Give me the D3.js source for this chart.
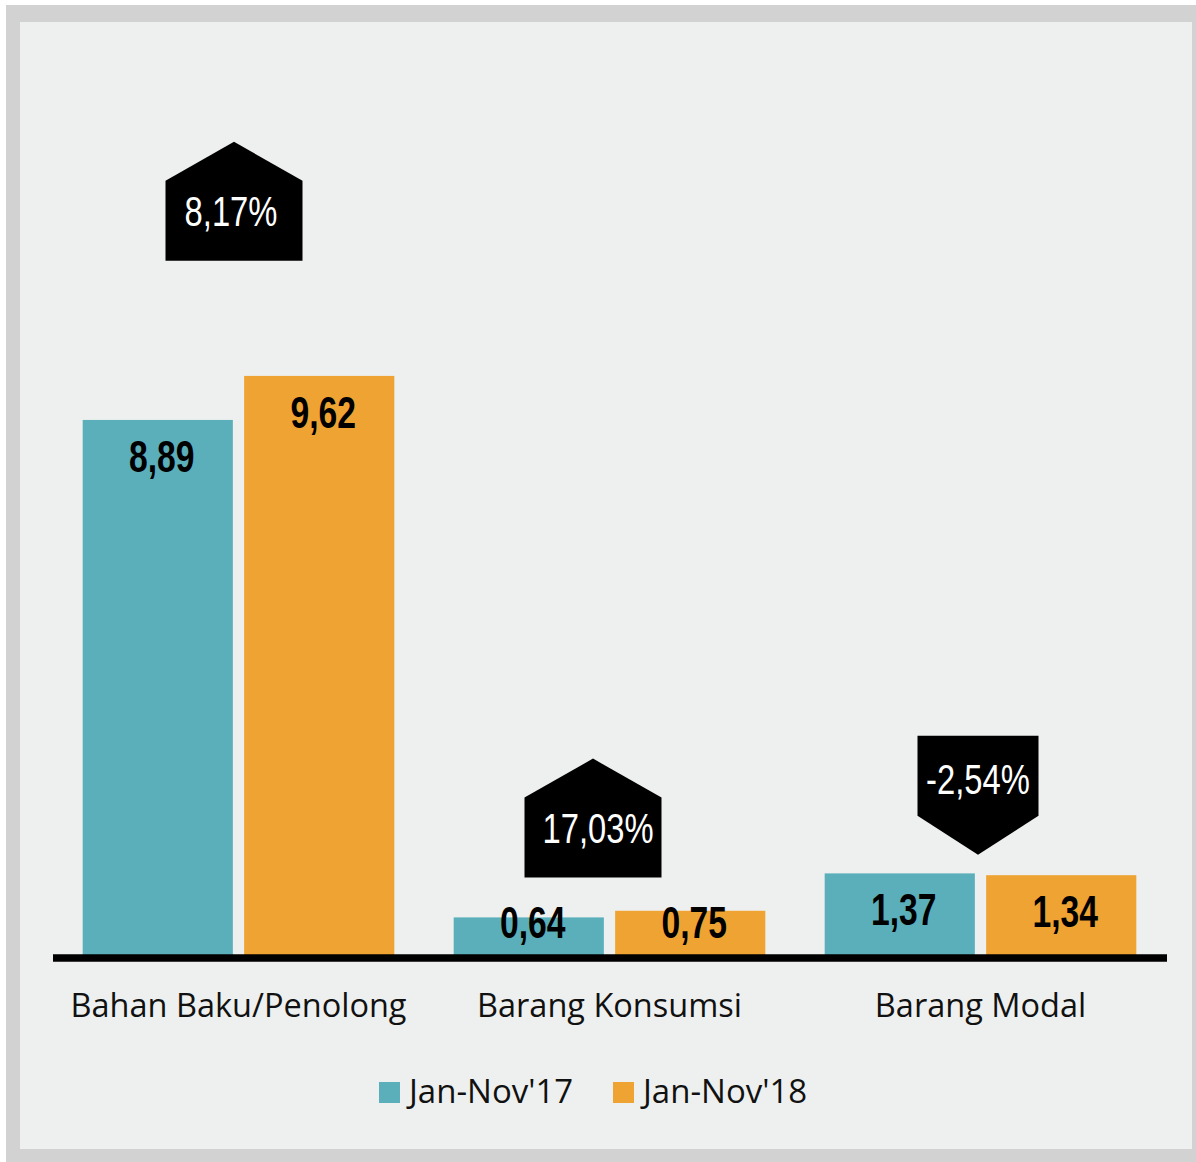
<!DOCTYPE html>
<html>
<head>
<meta charset="utf-8">
<script src="https://cdn.jsdelivr.net/npm/d3@7"></script>
<style>
  html, body { margin: 0; padding: 0; background: #ffffff; }
  svg { display: block; }
  .cat-label { font-family: 'Open Sans', sans-serif; font-size: 32.5px; fill: #111; }
  .legend-label { font-family: 'Open Sans', sans-serif; font-size: 33px; fill: #111; }
  .value-label { font-family: 'Liberation Sans', Arial, sans-serif; font-weight: bold; font-size: 44px; fill: #000; }
  .badge-label { font-family: 'Liberation Sans', Arial, sans-serif; font-size: 42px; fill: #fff; }
</style>
</head>
<body>
<svg id="chart" width="1196" height="1162"></svg>
<script>
const categories = ['Bahan Baku/Penolong', 'Barang Konsumsi', 'Barang Modal'];
const seriesNames = ["Jan-Nov'17", "Jan-Nov'18"];
const values17 = [8.89, 0.64, 1.37];
const values18 = [9.62, 0.75, 1.34];
const growth = [8.17, 17.03, -2.54];

const COLORS = ['#5aafbb', '#efa332'];
const WIDTH = 1196;
const HEIGHT = 1162;
// squeeze Liberation Sans into a narrow face
const NARROW_VALUE = 0.765;
const NARROW_BADGE = 0.78;

// badge placement (anchor level in data units, horizontal nudge, box width, text nudge)
const badgeLayout = [
  { level: 11.53, dx: -4.5, w: 137, tdx: -3 },
  { level: 1.3, dx: -16.5, w: 137, tdx: 5 },
  { level: 1.68, dx: -2.5, w: 121, tdx: 0 },
];

const fmt = (v) => v.toFixed(2).replace('.', ',');

const svg = d3.select('#chart');

// frame
svg.append('rect')
  .attr('x', 6).attr('y', 5)
  .attr('width', WIDTH - 6).attr('height', HEIGHT - 5)
  .attr('fill', '#d2d2d2');
svg.append('rect')
  .attr('x', 20).attr('y', 22)
  .attr('width', 1172).attr('height', 1127)
  .attr('fill', '#eef0ef');

const x0 = d3.scaleBand()
  .domain(categories)
  .range([53, 1166])
  .paddingInner(0.16)
  .paddingOuter(0.08);

const x1 = d3.scaleBand()
  .domain(seriesNames)
  .range([0, x0.bandwidth()])
  .paddingInner(0.07);

const y = d3.scaleLinear()
  .domain([0, 10])
  .range([956, 353]);

const rows = categories.map((c, i) => ({
  category: c,
  values: [values17[i], values18[i]].map((v, j) => ({ series: seriesNames[j], value: v, idx: j })),
  growth: growth[i],
  layout: badgeLayout[i],
}));

const groups = svg.append('g')
  .attr('id', 'bars')
  .selectAll('g')
  .data(rows)
  .enter()
    .append('g')
    .attr('transform', (d) => `translate(${x0(d.category)},0)`);

groups.selectAll('rect')
  .data((d) => d.values)
  .enter()
    .append('rect')
    .attr('x', (d) => x1(d.series))
    .attr('y', (d) => y(d.value))
    .attr('width', x1.bandwidth())
    .attr('height', (d) => y(0) - y(d.value))
    .attr('fill', (d) => COLORS[d.idx]);

groups.selectAll('text')
  .data((d) => d.values)
  .enter()
    .append('text')
    .classed('value-label', true)
    .attr('text-anchor', 'middle')
    .attr('transform', (d) => `translate(${x1(d.series) + x1.bandwidth() / 2 + 4},${Math.min(y(d.value) + 52, 938)}) scale(${NARROW_VALUE},1)`)
    .text((d) => fmt(d.value));

// baseline
svg.append('line')
  .attr('x1', 53).attr('x2', 1167)
  .attr('y1', 958).attr('y2', 958)
  .attr('stroke', '#000')
  .attr('stroke-width', 7.5);

// category labels
const xAxis = d3.axisBottom(x0).tickSize(0).tickPadding(0);
const axisG = svg.append('g')
  .attr('transform', 'translate(0,1017)')
  .call(xAxis);
axisG.select('.domain').remove();
axisG.selectAll('text')
  .attr('class', 'cat-label')
  .attr('dy', 0)
  .attr('y', 0)
  .attr('fill', null);

// growth badges
const badges = svg.append('g')
  .attr('id', 'badges')
  .selectAll('g')
  .data(rows)
  .enter()
    .append('g');

badges.append('path')
  .attr('fill', '#000')
  .attr('d', (d) => {
    const cx = x0(d.category) + x0.bandwidth() / 2 + d.layout.dx;
    const hw = d.layout.w / 2;
    const boxH = 80;
    const tip = 39;
    if (d.growth >= 0) {
      const b = y(d.layout.level);
      const t = b - boxH;
      return `M${cx - hw},${b} L${cx - hw},${t} L${cx},${t - tip} L${cx + hw},${t} L${cx + hw},${b} Z`;
    }
    const tipY = y(d.layout.level);
    const b = tipY - tip;
    const t = b - boxH;
    return `M${cx - hw},${t} L${cx + hw},${t} L${cx + hw},${b} L${cx},${tipY} L${cx - hw},${b} Z`;
  });

badges.append('text')
  .classed('badge-label', true)
  .attr('text-anchor', 'middle')
  .attr('transform', (d) => {
    const tx = x0(d.category) + x0.bandwidth() / 2 + d.layout.dx + d.layout.tdx;
    const ty = d.growth >= 0
      ? y(d.layout.level) - 80 + 45
      : y(d.layout.level) - 39 - 80 + 58;
    return `translate(${tx},${ty}) scale(${NARROW_BADGE},1)`;
  })
  .text((d) => fmt(d.growth) + '%');

// legend
const legend = svg.append('g')
  .attr('id', 'legend')
  .selectAll('g')
  .data(seriesNames)
  .enter()
    .append('g')
    .attr('transform', (d, i) => `translate(${379 + i * 234},1082)`);
legend.append('rect')
  .attr('width', 21).attr('height', 21)
  .attr('fill', (d, i) => COLORS[i]);
legend.append('text')
  .classed('legend-label', true)
  .attr('x', 30)
  .attr('y', 21)
  .text((d) => d);
</script>
</body>
</html>
